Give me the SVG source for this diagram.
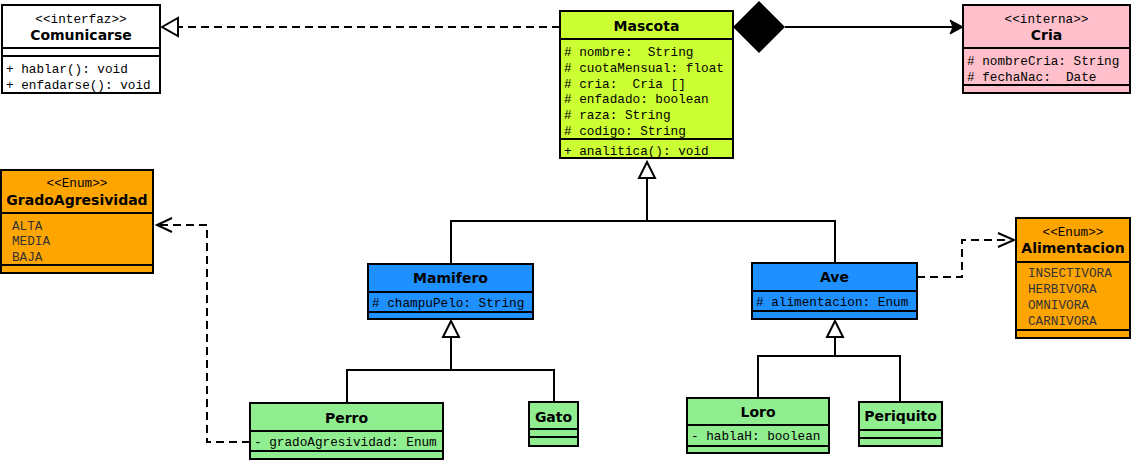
<svg xmlns="http://www.w3.org/2000/svg" width="1133" height="463" viewBox="0 0 1133 463">
<style>
.box{stroke:#000;stroke-width:2}
.sep{stroke:#000;stroke-width:2}
.t{font-family:"DejaVu Sans",Verdana,sans-serif;font-weight:bold;font-size:14px;text-anchor:middle;fill:#000}
.st{font-family:"Liberation Mono","Courier New",monospace;font-size:12.7px;text-anchor:middle;fill:#000}
.a{font-family:"Liberation Mono","Courier New",monospace;font-size:12.7px;fill:#000}
.e{font-family:"Liberation Mono","Courier New",monospace;font-size:12.7px;fill:#333}
.ln{fill:none;stroke:#000;stroke-width:2}
.dl{fill:none;stroke:#000;stroke-width:2;stroke-dasharray:8,5}
.tri{fill:#fff;stroke:#000;stroke-width:2}
</style>
<rect width="1133" height="463" fill="#fff"/>

<g id="connectors">
  <!-- realization Mascota -> Comunicarse -->
  <line class="dl" x1="560" y1="27" x2="178" y2="27"/>
  <polygon class="tri" points="162,27 178,18 178,36"/>
  <!-- composition Mascota -> Cria -->
  <polygon points="733,27 759,1 785,27 759,53" fill="#000"/>
  <line class="ln" x1="785" y1="27" x2="958" y2="27"/>
  <path d="M963,27 L950,20 L953,27 L950,34 Z" fill="#000" stroke="#000" stroke-width="1"/>
  <!-- generalization to Mascota -->
  <polyline class="ln" points="451,264 451,221 835,221 835,263"/>
  <line class="ln" x1="647" y1="178" x2="647" y2="221"/>
  <polygon class="tri" points="647,162 639,178 655,178"/>
  <!-- generalization to Mamifero -->
  <polyline class="ln" points="347,403 347,370 554,370 554,402"/>
  <line class="ln" x1="451" y1="337" x2="451" y2="370"/>
  <polygon class="tri" points="451,321 443,337 459,337"/>
  <!-- generalization to Ave -->
  <polyline class="ln" points="758,398 758,356 900,356 900,402"/>
  <line class="ln" x1="835" y1="337" x2="835" y2="356"/>
  <polygon class="tri" points="835,321 827,337 843,337"/>
  <!-- Perro -> GradoAgresividad dependency -->
  <polyline class="dl" points="250,442 207,442 207,225 160,225"/>
  <polyline class="ln" points="172,218 157,225 172,232"/>
  <!-- Ave -> Alimentacion dependency -->
  <polyline class="dl" points="917,277 962,277 962,240 1010,240"/>
  <polyline class="ln" points="998,233 1014,240 998,247"/>
</g>

<g id="Comunicarse">
  <rect class="box" x="2" y="5" width="158" height="88" fill="#fff"/>
  <line class="sep" x1="2" y1="48" x2="160" y2="48"/>
  <line class="sep" x1="2" y1="56" x2="160" y2="56"/>
  <text class="st" x="81" y="23">&lt;&lt;interfaz&gt;&gt;</text>
  <text class="t" x="81" y="40">Comunicarse</text>
  <text class="a" x="6" y="73">+ hablar(): void</text>
  <text class="a" x="6" y="89">+ enfadarse(): void</text>
</g>

<g id="Mascota">
  <rect class="box" x="560" y="11" width="173" height="147" fill="#CCFF33"/>
  <line class="sep" x1="560" y1="39" x2="733" y2="39"/>
  <line class="sep" x1="560" y1="139" x2="733" y2="139"/>
  <text class="t" x="646.5" y="31">Mascota</text>
  <text class="a" x="564" y="56" xml:space="preserve"># nombre:  String</text>
  <text class="a" x="564" y="72"># cuotaMensual: float</text>
  <text class="a" x="564" y="88" xml:space="preserve"># cria:  Cria []</text>
  <text class="a" x="564" y="103"># enfadado: boolean</text>
  <text class="a" x="564" y="119"># raza: String</text>
  <text class="a" x="564" y="135"># codigo: String</text>
  <text class="a" x="564" y="155">+ analitica(): void</text>
</g>

<g id="Cria">
  <rect class="box" x="963" y="5" width="167" height="88" fill="#FFC0CB"/>
  <line class="sep" x1="963" y1="48" x2="1130" y2="48"/>
  <line class="sep" x1="963" y1="85" x2="1130" y2="85"/>
  <text class="st" x="1046.5" y="23">&lt;&lt;interna&gt;&gt;</text>
  <text class="t" x="1046.5" y="40">Cria</text>
  <text class="a" x="967" y="65"># nombreCria: String</text>
  <text class="a" x="967" y="81" xml:space="preserve"># fechaNac:  Date</text>
</g>

<g id="GradoAgresividad">
  <rect class="box" x="1" y="170" width="152" height="103" fill="#FFA500"/>
  <line class="sep" x1="1" y1="213" x2="153" y2="213"/>
  <line class="sep" x1="1" y1="265" x2="153" y2="265"/>
  <text class="st" x="77" y="187">&lt;&lt;Enum&gt;&gt;</text>
  <text class="t" x="77" y="205">GradoAgresividad</text>
  <text class="e" x="12" y="230">ALTA</text>
  <text class="e" x="12" y="245">MEDIA</text>
  <text class="e" x="12" y="261">BAJA</text>
</g>

<g id="Mamifero">
  <rect class="box" x="368" y="264" width="165" height="55" fill="#1E90FF"/>
  <line class="sep" x1="368" y1="292" x2="533" y2="292"/>
  <line class="sep" x1="368" y1="312" x2="533" y2="312"/>
  <text class="t" x="450.5" y="283">Mamifero</text>
  <text class="a" x="372" y="307"># champuPelo: String</text>
</g>

<g id="Ave">
  <rect class="box" x="752" y="263" width="165" height="56" fill="#1E90FF"/>
  <line class="sep" x1="752" y1="291" x2="917" y2="291"/>
  <line class="sep" x1="752" y1="311" x2="917" y2="311"/>
  <text class="t" x="834.5" y="282">Ave</text>
  <text class="a" x="756" y="306"># alimentacion: Enum</text>
</g>

<g id="Alimentacion">
  <rect class="box" x="1016" y="218" width="114" height="120" fill="#FFA500"/>
  <line class="sep" x1="1016" y1="262" x2="1130" y2="262"/>
  <line class="sep" x1="1016" y1="330" x2="1130" y2="330"/>
  <text class="st" x="1073" y="236">&lt;&lt;Enum&gt;&gt;</text>
  <text class="t" x="1073" y="253">Alimentacion</text>
  <text class="e" x="1028" y="277">INSECTIVORA</text>
  <text class="e" x="1028" y="293">HERBIVORA</text>
  <text class="e" x="1028" y="309">OMNIVORA</text>
  <text class="e" x="1028" y="325">CARNIVORA</text>
</g>

<g id="Perro">
  <rect class="box" x="250" y="403" width="193" height="56" fill="#90EE90"/>
  <line class="sep" x1="250" y1="431" x2="443" y2="431"/>
  <line class="sep" x1="250" y1="451" x2="443" y2="451"/>
  <text class="t" x="346.5" y="423">Perro</text>
  <text class="a" x="254" y="446">- gradoAgresividad: Enum</text>
</g>

<g id="Gato">
  <rect class="box" x="529" y="402" width="49" height="44" fill="#90EE90"/>
  <line class="sep" x1="529" y1="429" x2="578" y2="429"/>
  <line class="sep" x1="529" y1="437" x2="578" y2="437"/>
  <text class="t" x="553.5" y="422">Gato</text>
</g>

<g id="Loro">
  <rect class="box" x="687" y="398" width="142" height="55" fill="#90EE90"/>
  <line class="sep" x1="687" y1="425" x2="829" y2="425"/>
  <line class="sep" x1="687" y1="446" x2="829" y2="446"/>
  <text class="t" x="758" y="417">Loro</text>
  <text class="a" x="691" y="440">- hablaH: boolean</text>
</g>

<g id="Periquito">
  <rect class="box" x="859" y="402" width="83" height="44" fill="#90EE90"/>
  <line class="sep" x1="859" y1="430" x2="942" y2="430"/>
  <line class="sep" x1="859" y1="438" x2="942" y2="438"/>
  <text class="t" x="900.5" y="421">Periquito</text>
</g>
</svg>
